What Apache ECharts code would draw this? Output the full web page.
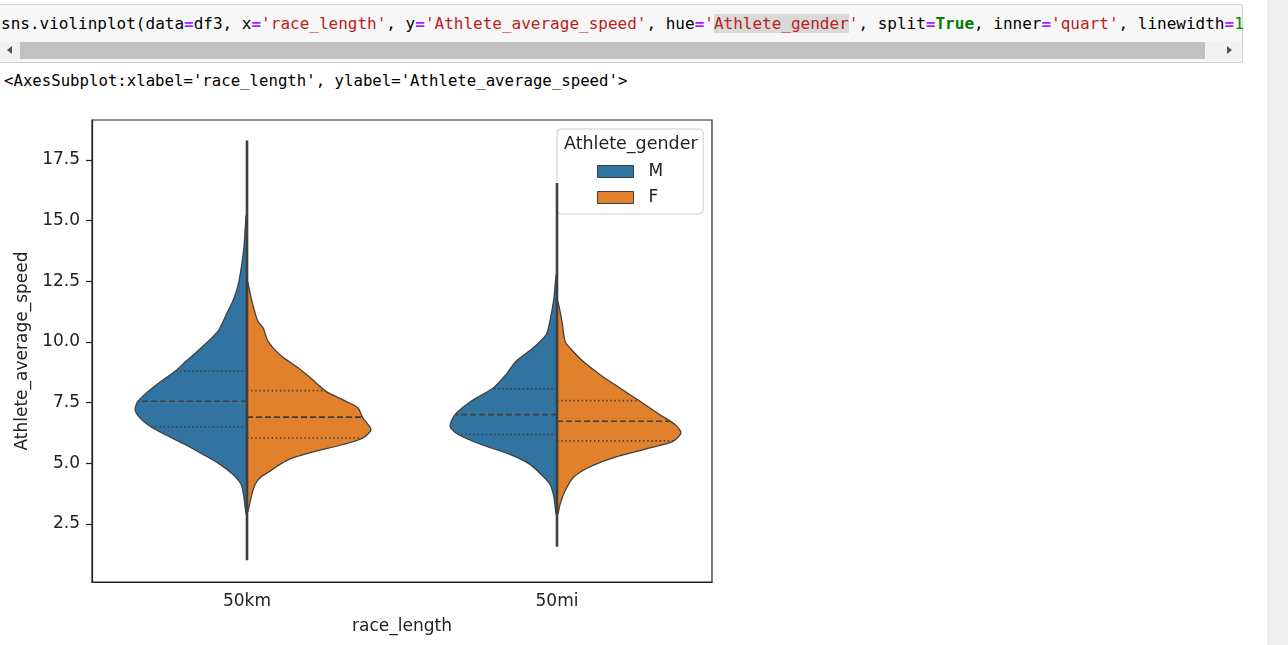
<!DOCTYPE html>
<html>
<head>
<meta charset="utf-8">
<script src="https://cdn.jsdelivr.net/npm/echarts@6/dist/echarts.min.js"></script>
<style>
  body { margin: 0; width: 1288px; height: 645px; position: relative; overflow: hidden; background: #fff; }
  .mono { font-family: "DejaVu Sans Mono", "Liberation Mono", monospace; white-space: pre; }
  #cell { position: absolute; left: -1px; top: 4px; width: 1242px; height: 57px; background: #f7f7f7; border: 1px solid #cfcfcf; border-radius: 2px; }
  #code { position: absolute; left: 1px; top: 9px; font-size: 16px; line-height: 20px; color: #000; }
  #code .o { color: #aa22ff; font-weight: bold; }
  #code .s { color: #ba2121; }
  #code .k { color: #008000; font-weight: bold; }
  #code .n { color: #008800; }
  #code .hl { background: #d9d9d9; }
  #track { position: absolute; left: 0; top: 37px; width: 1241px; height: 17px; background: #f1f1f1; }
  #thumb { position: absolute; left: 20px; top: 0; width: 1185px; height: 17px; background: #c1c1c1; }
  #arrL { position: absolute; left: 7px; top: 4px; width: 0; height: 0; border-top: 4.5px solid transparent; border-bottom: 4.5px solid transparent; border-right: 5px solid #505050; }
  #arrR { position: absolute; left: 1227px; top: 4px; width: 0; height: 0; border-top: 4.5px solid transparent; border-bottom: 4.5px solid transparent; border-left: 5px solid #505050; }
  #out { position: absolute; left: 4px; top: 71px; font-size: 15.7px; line-height: 20px; color: #000; }
  #rbar { position: absolute; left: 1267px; top: 0; width: 21px; height: 645px; background: #eeeeee; }
  #chart { position: absolute; left: 0; top: 95px; width: 760px; height: 550px; }
</style>
</head>
<body>
<div id="cell">
  <div id="code" class="mono">sns.violinplot(data<span class="o">=</span>df3, x<span class="o">=</span><span class="s">'race_length'</span>, y<span class="o">=</span><span class="s">'Athlete_average_speed'</span>, hue<span class="o">=</span><span class="s">'<span class="hl">Athlete_gender</span>'</span>, split<span class="o">=</span><span class="k">True</span>, inner<span class="o">=</span><span class="s">'quart'</span>, linewidth<span class="o">=</span><span class="n">1</span></div>
  <div id="track"><div id="thumb"></div><div id="arrL"></div><div id="arrR"></div></div>
</div>
<div id="out" class="mono">&lt;AxesSubplot:xlabel='race_length', ylabel='Athlete_average_speed'&gt;</div>
<div id="rbar"></div>
<div id="chart"></div>
<script>
// categories / legend
const categories = ['50km', '50mi'];
const genders = ['M', 'F'];
const yTicks = [2.5, 5, 7.5, 10, 12.5, 15, 17.5];

// half-violin outlines: [speed, half width in category units], from top to bottom
const male50km = [
  [15.2, 0.003], [13.9, 0.010], [12.5, 0.026], [11.8, 0.042], [11.1, 0.068],
  [10.43, 0.094], [9.75, 0.148], [9.2, 0.197], [8.79, 0.232], [8.38, 0.277],
  [7.96, 0.319], [7.55, 0.352], [7.21, 0.361], [6.86, 0.345], [6.52, 0.313],
  [6.18, 0.265], [5.77, 0.200], [5.36, 0.142], [4.95, 0.087], [4.53, 0.045],
  [4.12, 0.019], [3.59, 0.010], [2.9, 0.003]
];
const female50km = [
  [12.5, 0.002], [11.67, 0.016], [10.85, 0.035], [10.58, 0.052], [10.02, 0.068],
  [9.47, 0.106], [8.93, 0.165], [8.5, 0.206], [7.96, 0.255], [7.55, 0.319],
  [7.28, 0.358], [6.86, 0.374], [6.39, 0.400], [6.04, 0.374], [5.77, 0.310],
  [5.5, 0.223], [5.22, 0.148], [4.95, 0.106], [4.67, 0.074], [4.4, 0.042],
  [4.12, 0.026], [3.58, 0.013], [3.0, 0.003]
];
const male50mi = [
  [12.77, 0.003], [11.8, 0.010], [10.85, 0.023], [10.3, 0.035], [9.75, 0.077],
  [9.2, 0.132], [8.65, 0.165], [8.1, 0.206], [7.55, 0.277], [7.0, 0.329],
  [6.52, 0.345], [6.18, 0.319], [5.77, 0.245], [5.36, 0.152], [4.95, 0.087],
  [4.54, 0.052], [4.14, 0.023], [3.6, 0.010], [2.9, 0.003]
];
const female50mi = [
  [11.67, 0.003], [10.85, 0.016], [10.02, 0.026], [9.75, 0.042], [9.2, 0.084],
  [8.65, 0.139], [8.1, 0.203], [7.55, 0.268], [7.0, 0.332], [6.59, 0.381],
  [6.25, 0.400], [5.9, 0.374], [5.63, 0.300], [5.22, 0.181], [4.81, 0.100],
  [4.4, 0.052], [3.85, 0.026], [3.3, 0.010], [2.9, 0.003]
];

// quartiles [Q1, median, Q3] per category
const maleQuartiles = [[6.5, 7.55, 8.79], [6.18, 7.0, 8.07]];
const femaleQuartiles = [[6.04, 6.9, 7.99], [5.92, 6.73, 7.58]];
// min / max speed per category (centre line)
const speedRange = [[1.0, 18.3], [1.55, 16.55]];

const colors = ['#3274a1', '#e1812c'];
const edge = '#3f3f3f';
const font = '"DejaVu Sans", sans-serif';

function widthAt(prof, v) {
  for (let k = 0; k < prof.length - 1; k++) {
    const a = prof[k], b = prof[k + 1];
    if (v <= a[0] && v >= b[0]) {
      const t = (a[0] - v) / (a[0] - b[0]);
      return a[1] + t * (b[1] - a[1]);
    }
  }
  return 0;
}

function violinRender(profiles, quartiles, side, color) {
  return function (params, api) {
    const i = api.value(0);
    const prof = profiles[i];
    const band = api.size([1, 0])[0];
    const cx = api.coord([i, 0])[0];
    const pts = [[cx, api.coord([i, prof[0][0]])[1]]];
    prof.forEach(function (p) {
      pts.push([cx + side * p[1] * band, api.coord([i, p[0]])[1]]);
    });
    pts.push([cx, api.coord([i, prof[prof.length - 1][0]])[1]]);
    const children = [{
      type: 'polygon',
      shape: { points: pts, smooth: 0.25 },
      style: { fill: color, stroke: edge, lineWidth: 1.25 }
    }];
    quartiles[i].forEach(function (q, k) {
      const y = api.coord([i, q])[1];
      const w = widthAt(prof, q) * band;
      children.push({
        type: 'line',
        shape: { x1: cx, y1: y, x2: cx + side * w, y2: y },
        style: {
          stroke: edge, lineWidth: 1.6,
          lineDash: k === 1 ? [6, 3] : [1.5, 2.6]
        }
      });
    });
    return { type: 'group', children: children };
  };
}

const chart = echarts.init(document.getElementById('chart'));
chart.setOption({
  animation: false,
  grid: {
    left: 92, right: 48, top: 25, bottom: 63,
    show: true, borderColor: '#222', borderWidth: 1.2
  },
  xAxis: {
    type: 'category',
    data: categories,
    name: 'race_length',
    nameLocation: 'middle',
    nameGap: 36,
    nameTextStyle: { color: '#222', fontSize: 17, fontFamily: font },
    axisLine: { lineStyle: { color: '#222', width: 1.2 } },
    axisTick: { alignWithLabel: true, length: 6, lineStyle: { color: '#222', width: 1.2 } },
    axisLabel: { color: '#222', fontSize: 17, fontFamily: font, margin: 11 },
    splitLine: { show: false }
  },
  yAxis: {
    type: 'value',
    min: 0.1,
    max: 19.15,
    name: 'Athlete_average_speed',
    nameLocation: 'middle',
    nameGap: 60,
    nameTextStyle: { color: '#222', fontSize: 17, fontFamily: font },
    axisLine: { show: true, lineStyle: { color: '#222', width: 1.2 } },
    axisTick: { show: true, customValues: yTicks, length: 6, lineStyle: { color: '#222', width: 1.2 } },
    axisLabel: {
      customValues: yTicks, color: '#222', fontSize: 17, fontFamily: font, margin: 12,
      formatter: function (v) { return v.toFixed(1); }
    },
    splitLine: { show: false }
  },
  legend: {
    left: 557, top: 34,
    orient: 'vertical',
    data: [{ name: 'M', icon: 'rect' }, { name: 'F', icon: 'rect' }],
    itemWidth: 36, itemHeight: 12, itemGap: 9,
    padding: [34, 40, 8, 40],
    backgroundColor: 'rgba(255,255,255,0.8)',
    borderColor: '#cccccc', borderWidth: 1, borderRadius: 4,
    itemStyle: { borderColor: edge, borderWidth: 1 },
    textStyle: { color: '#222', fontSize: 17, fontFamily: font, lineHeight: 14, padding: [0, 0, 0, 10] }
  },
  graphic: [{
    type: 'text', left: 564, top: 40, z: 100,
    style: { text: 'Athlete_gender', font: '17.5px "DejaVu Sans", sans-serif', fill: '#222' }
  }],
  series: [
    {
      name: genders[0], type: 'custom',
      itemStyle: { color: colors[0] },
      renderItem: violinRender([male50km, male50mi], maleQuartiles, -1, colors[0]),
      data: categories.map(function (c, i) { return [i, maleQuartiles[i][1]]; })
    },
    {
      name: genders[1], type: 'custom',
      itemStyle: { color: colors[1] },
      renderItem: violinRender([female50km, female50mi], femaleQuartiles, 1, colors[1]),
      data: categories.map(function (c, i) { return [i, femaleQuartiles[i][1]]; })
    },
    {
      name: 'range', type: 'custom', z: 5,
      renderItem: function (params, api) {
        const i = api.value(0);
        const top = api.coord([i, api.value(2)]);
        const bot = api.coord([i, api.value(1)]);
        return {
          type: 'line',
          shape: { x1: top[0], y1: top[1], x2: bot[0], y2: bot[1] },
          style: { stroke: edge, lineWidth: 2.6 }
        };
      },
      data: speedRange.map(function (r, i) { return [i, r[0], r[1]]; })
    }
  ]
});
</script>
</body>
</html>
